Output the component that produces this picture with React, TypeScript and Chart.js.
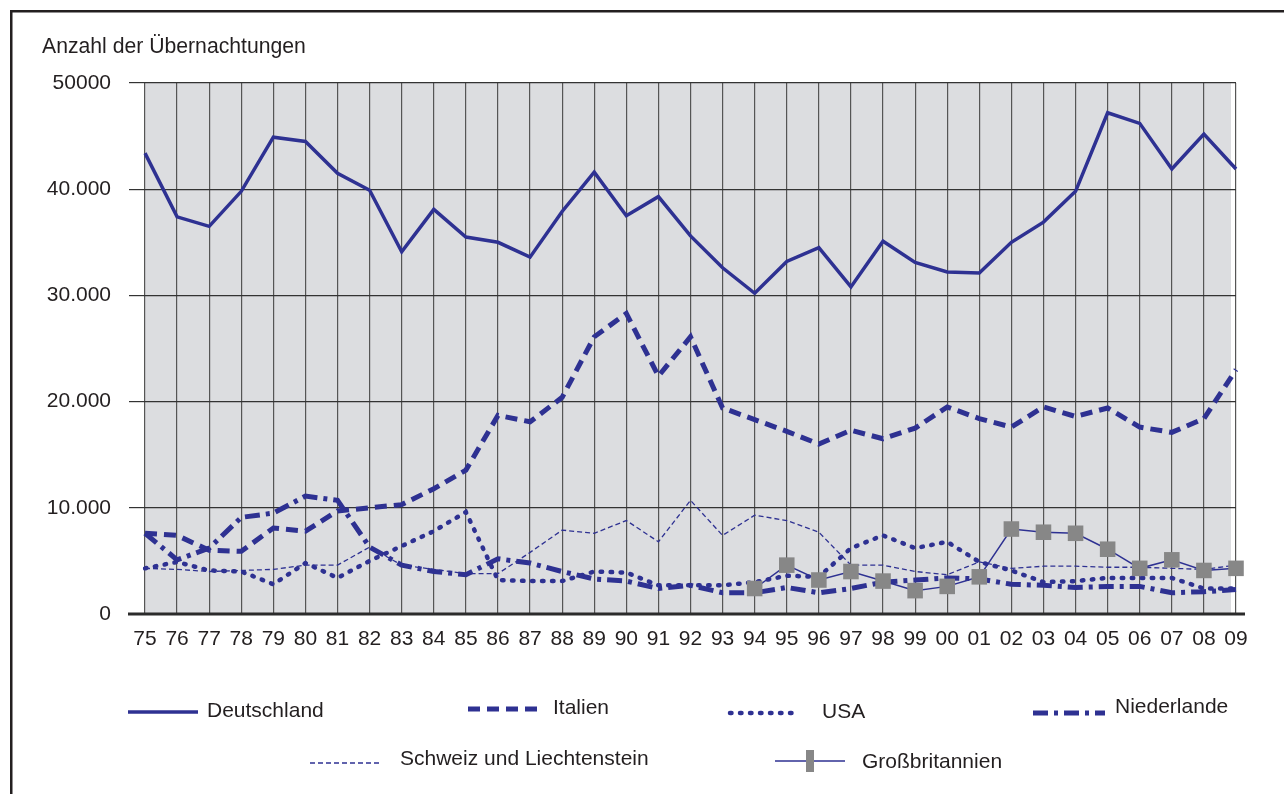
import React, { useEffect, useRef } from "react";
import { Chart, registerables } from "chart.js";

Chart.register(...registerables);

const years = ["75","76","77","78","79","80","81","82","83","84","85","86","87","88","89","90","91","92","93","94","95","96","97","98","99","00","01","02","03","04","05","06","07","08","09"];

const deutschland = [43400,37400,36500,39800,44900,44500,41500,39900,34100,38100,35500,35000,33600,37900,41600,37500,39300,35600,32600,30200,33200,34500,30800,35100,33100,32200,32100,35000,36900,39800,47200,46200,41900,45200,41900];
const italien = [7600,7400,6000,5900,8100,7800,9700,10000,10300,11800,13550,18700,18100,20400,26100,28300,22400,26100,19400,18300,17200,16000,17300,16500,17500,19500,18400,17600,19500,18600,19400,17600,17100,18400,23000];
const usa = [4300,4900,4100,4000,2800,4800,3400,5000,6400,7800,9600,3200,3100,3100,4000,3900,2700,2700,2700,3000,3600,3500,6200,7400,6200,6800,4900,4100,3000,3100,3400,3400,3400,2400,2400];
const niederlande = [7600,5100,6200,9100,9500,11100,10700,6300,4600,4000,3700,5200,4800,4000,3300,3100,2400,2700,2000,2000,2500,2000,2400,3000,3200,3400,3300,2800,2700,2500,2600,2600,2000,2100,2300];
const schweiz = [4300,4200,4000,4100,4200,4600,4600,6300,4600,4200,3800,3800,5800,7900,7600,8800,6800,10700,7400,9300,8800,7700,4600,4600,4000,3700,4900,4300,4500,4500,4400,4400,4300,4200,4600];
const grossbritannien = [null,null,null,null,null,null,null,null,null,null,null,null,null,null,null,null,null,null,null,2400,4600,3200,4000,3100,2200,2600,3500,8000,7700,7600,6100,4300,5100,4100,4300];

const seriesNames = ["Deutschland","Italien","USA","Niederlande","Schweiz und Liechtenstein","Großbritannien"];
const yTickValues = [0,10000,20000,30000,40000,50000];
const yTickLabels = ["0","10.000","20.000","30.000","40.000","50000"];
const yTitle = "Anzahl der Übernachtungen";

const BLUE = "#2e3192";
const GREY = "#878787";
const TEXT = "#231f20";
const FAMILY = "'Liberation Sans', Arial, Helvetica, sans-serif";

export default function App() {
  const ref = useRef<HTMLCanvasElement>(null);

  useEffect(() => {
    const canvas = ref.current;
    if (!canvas) return;

    const legendPos = [
      { x1: 128, x2: 198, y: 712, tx: 207, ty: 711 },
      { x1: 468, x2: 540, y: 709, tx: 553, ty: 708 },
      { x1: 730, x2: 800, y: 713, tx: 822, ty: 712 },
      { x1: 1033, x2: 1105, y: 713, tx: 1115, ty: 707 },
      { x1: 310, x2: 380, y: 763, tx: 400, ty: 759 },
      { x1: 775, x2: 845, y: 761, tx: 862, ty: 762 },
    ];

    const decor = {
      id: "decor",
      beforeDraw(chart: any) {
        const { ctx, chartArea: a } = chart;
        ctx.save();
        ctx.fillStyle = "#ffffff";
        ctx.fillRect(0, 0, chart.width, chart.height);
        ctx.fillStyle = "#dcdde0";
        ctx.fillRect(a.left, a.top, a.right - a.left - 5, a.bottom - a.top);
        ctx.strokeStyle = TEXT;
        ctx.lineWidth = 2.5;
        ctx.strokeRect(11.25, 11.25, chart.width + 40, chart.height + 40);
        ctx.restore();
      },
      beforeDatasetsDraw(chart: any) {
        const { ctx, chartArea: a } = chart;
        const y0 = chart.scales.y.getPixelForValue(0);
        ctx.save();
        ctx.strokeStyle = "#2b2b2b";
        ctx.lineWidth = 3;
        ctx.beginPath();
        ctx.moveTo(128, y0);
        ctx.lineTo(a.right + 9, y0);
        ctx.stroke();
        ctx.restore();
      },
      afterDraw(chart: any) {
        const { ctx } = chart;
        ctx.save();
        ctx.fillStyle = TEXT;
        ctx.font = `21.2px ${FAMILY}`;
        ctx.textBaseline = "middle";
        ctx.textAlign = "left";
        ctx.fillText(yTitle, 42, 47);
        chart.data.datasets.forEach((ds: any, i: number) => {
          const p = legendPos[i];
          if (!p) return;
          ctx.save();
          ctx.strokeStyle = ds.borderColor;
          ctx.lineWidth = ds.borderWidth;
          ctx.lineCap = ds.borderCapStyle || "butt";
          ctx.setLineDash(ds.borderDash || []);
          ctx.beginPath();
          ctx.moveTo(p.x1, p.y);
          ctx.lineTo(p.x2, p.y);
          ctx.stroke();
          ctx.restore();
          if (ds.pointRadius > 0) {
            ctx.fillStyle = GREY;
            const cx = (p.x1 + p.x2) / 2;
            ctx.fillRect(cx - 4, p.y - 11, 8, 22);
          }
          ctx.fillStyle = TEXT;
          ctx.font = `21px ${FAMILY}`;
          ctx.fillText(ds.label, p.tx, p.ty);
        });
        ctx.restore();
      },
    };

    const base = { pointRadius: 0, tension: 0, fill: false, borderColor: BLUE };

    const chart = new Chart(canvas, {
      type: "line",
      data: {
        labels: years,
        datasets: [
          { ...base, label: seriesNames[0], data: deutschland, borderWidth: 3.5 },
          { ...base, label: seriesNames[1], data: italien, borderWidth: 5, borderDash: [12, 7] },
          { ...base, label: seriesNames[2], data: usa, borderWidth: 4.5, borderDash: [1.5, 8.5], borderCapStyle: "round" },
          { ...base, label: seriesNames[3], data: niederlande, borderWidth: 5, borderDash: [15, 6, 4, 6] },
          { ...base, label: seriesNames[4], data: schweiz, borderWidth: 1.3, borderDash: [5, 3] },
          {
            ...base, label: seriesNames[5], data: grossbritannien, borderWidth: 1.5,
            pointRadius: 11, pointStyle: "rect", pointBackgroundColor: GREY, pointBorderColor: GREY,
            pointBorderWidth: 0, spanGaps: false, order: -1,
          },
        ],
      } as any,
      options: {
        responsive: false,
        animation: false,
        events: [],
        layout: { padding: { left: 0, right: 48, top: 83, bottom: 140 } },
        plugins: { legend: { display: false }, tooltip: { enabled: false }, title: { display: false } },
        scales: {
          x: {
            type: "category",
            offset: false,
            border: { display: false },
            grid: { color: "#555555", lineWidth: 1.2, drawTicks: false },
            ticks: { autoSkip: false, maxRotation: 0, minRotation: 0, padding: 13, color: TEXT, font: { family: FAMILY, size: 21 } },
            afterFit: (s: any) => { s.height = 40; },
          },
          y: {
            min: 0,
            max: 50000,
            border: { display: false },
            grid: { color: "#333333", lineWidth: 1.2, tickLength: 16 },
            ticks: {
              stepSize: 10000,
              padding: 18,
              color: TEXT,
              font: { family: FAMILY, size: 21 },
              callback: (v: any) => {
                const i = yTickValues.indexOf(Number(v));
                return i >= 0 ? yTickLabels[i] : "";
              },
            },
            afterFit: (s: any) => { s.width = 145; },
          },
        },
      } as any,
      plugins: [decor],
    });

    return () => chart.destroy();
  }, []);

  return (
    <div style={{ position: "fixed", left: 0, top: 0, width: 1284, height: 794, background: "#fff" }}>
      <canvas ref={ref} width={1284} height={794} style={{ display: "block", width: 1284, height: 794 }} />
    </div>
  );
}
